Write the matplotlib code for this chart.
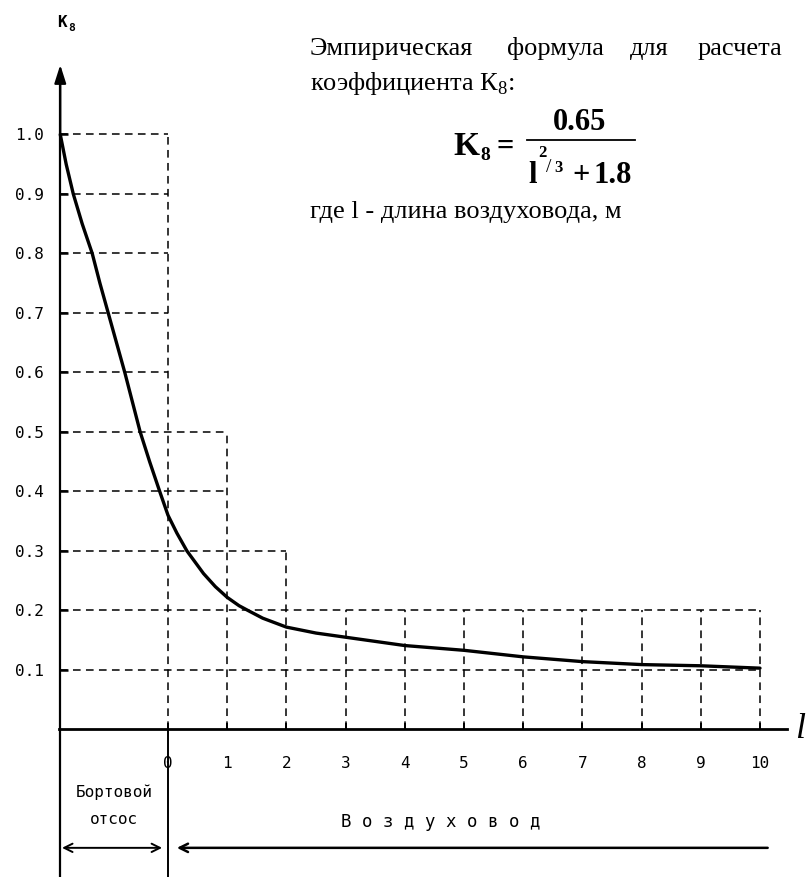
import matplotlib.pyplot as plt

# K8; l < 0 is the "бортовой отсос" stretch left of l = 0
curve_l = [-1.82, -1.72, -1.60, -1.45, -1.28, -1.15, -1.01, -0.87, -0.73, -0.60,
           -0.47, -0.31, -0.14, 0.0, 0.15, 0.32, 0.6, 0.8, 1.0, 1.2, 1.35, 1.6,
           2.0, 2.5, 3.0, 4.0, 5.0, 6.0, 7.0, 8.0, 9.0, 10.0]
curve_k = [1.0, 0.95, 0.9, 0.85, 0.8, 0.75, 0.7, 0.65, 0.6, 0.55,
           0.5, 0.45, 0.4, 0.36, 0.33, 0.3, 0.262, 0.24, 0.222, 0.208, 0.2, 0.187,
           0.172, 0.162, 0.155, 0.141, 0.133, 0.122, 0.114, 0.109, 0.107, 0.103]

l_ticks = list(range(11))
l_labels = [str(v) for v in l_ticks]
k_ticks = [0.1, 0.2, 0.3, 0.4, 0.5, 0.6, 0.7, 0.8, 0.9, 1.0]
k_labels = ["0.1", "0.2", "0.3", "0.4", "0.5", "0.6", "0.7", "0.8", "0.9", "1.0"]

# dashed guides: vertical at each l up to its top, horizontal at each K up to an l
guide_col_tops = [1.0, 0.5, 0.3, 0.2, 0.2, 0.2, 0.2, 0.2, 0.2, 0.2, 0.2]
guide_row_ends = [10, 10, 2, 1, 1, 0, 0, 0, 0, 0]

W, H = 810, 877
MONO = "DejaVu Sans Mono"
SERIF = "Liberation Serif"
plt.rcParams["mathtext.fontset"] = "custom"
plt.rcParams["mathtext.rm"] = SERIF


def px(x, y):
    return x / W, 1 - y / H


fig = plt.figure(figsize=(W / 100, H / 100), dpi=100)
ax = fig.add_axes([0, 0, 1, 1])
ax.set_xlim(-2.838, 10.845)
ax.set_ylim(-0.248, 1.226)
x_left = curve_l[0]

# axes
for side in ["top", "right"]:
    ax.spines[side].set_visible(False)
ax.spines["left"].set_position(("data", x_left))
ax.spines["left"].set_bounds(-0.248, 1.10)
ax.spines["left"].set_linewidth(1.6)
ax.spines["bottom"].set_position(("data", 0))
ax.spines["bottom"].set_bounds(-1.84, 10.45)
ax.spines["bottom"].set_linewidth(2.0)
ax.annotate("", xy=(x_left, 1.117), xytext=(x_left, 1.0),
            arrowprops=dict(arrowstyle="-|>,head_length=1.1,head_width=0.35",
                            lw=1.6, color="black", shrinkA=0, shrinkB=0))

ax.set_yticks(k_ticks, labels=k_labels, family=MONO, fontsize=11.5)
ax.set_xticks(l_ticks, labels=l_labels, family=MONO, fontsize=11.5)
ax.tick_params(axis="y", direction="in", length=6, width=1.8, pad=12)
ax.tick_params(axis="x", direction="in", length=4, width=1.4, pad=19)

# dashed guide grid
dash = (0, (5, 3.5))
for l, top in zip(l_ticks, guide_col_tops):
    ax.plot([l, l], [0, top], color="black", lw=1.1, ls=dash)
for k, end in zip(k_ticks, guide_row_ends):
    ax.plot([x_left, end], [k, k], color="black", lw=1.1, ls=dash)

# the curve
ax.plot(curve_l, curve_k, color="black", lw=2.4, solid_capstyle="round",
        solid_joinstyle="round")

# lower scheme: section divider and spans
ax.plot([0, 0], [-0.248, 0], color="black", lw=1.4)
ax.annotate("", xy=(x_left + 0.03, -0.199), xytext=(-0.10, -0.199),
            arrowprops=dict(arrowstyle="<->,head_length=0.6,head_width=0.3",
                            lw=1.4, color="black", shrinkA=0, shrinkB=0))
ax.annotate("", xy=(0.15, -0.199), xytext=(10.13, -0.199),
            arrowprops=dict(arrowstyle="->,head_length=0.6,head_width=0.3",
                            lw=1.8, color="black", shrinkA=0, shrinkB=0))

fig.text(*px(114, 792), "Бортовой", family=MONO, fontsize=11.5, ha="center", va="center")
fig.text(*px(114, 820), "отсос", family=MONO, fontsize=11.5, ha="center", va="center")
fig.text(*px(441, 822), "В о з д у х о в о д", family=MONO, fontsize=12.5,
         ha="center", va="center")
fig.text(*px(800, 730), "l", family=SERIF, style="italic", fontsize=26,
         ha="center", va="center")
fig.text(*px(57, 27), "K", family=MONO, fontsize=11.5, weight="bold", ha="left",
         va="baseline")
fig.text(*px(68, 31), "8", family=MONO, fontsize=8, weight="bold", ha="left",
         va="baseline")

# empirical formula block
fs = 19
words = [("Эмпирическая", 310), ("формула", 507), ("для", 630), ("расчета", 698)]
for w, x in words:
    fig.text(*px(x, 55), w, family=SERIF, fontsize=fs, va="baseline")
fig.text(*px(310, 90), "коэффициента К$_8$:", family=SERIF, fontsize=fs, va="baseline")
fig.text(*px(310, 218), "где l - длина воздуховода, м", family=SERIF, fontsize=fs,
         va="baseline")

bf = dict(family=SERIF, weight="bold", va="baseline")
fig.text(*px(453, 155), "K", fontsize=24, **bf)
fig.text(*px(480, 160), "8", fontsize=14, **bf)
fig.text(*px(497, 155), "=", fontsize=22, **bf)
fig.text(*px(580, 130), "0.65", fontsize=22, ha="center", **bf)
ax.plot([(527 - 168) / 59.2, (635 - 168) / 59.2], [(729.5 - 140) / 595] * 2,
        color="black", lw=1.3)
fig.text(*px(528, 183), "l", fontsize=22, **bf)
fig.text(*px(538, 157), "2", fontsize=12, **bf)
fig.text(*px(546, 172), "/", fontsize=14, family=SERIF, va="baseline")
fig.text(*px(554, 172), "3", fontsize=12, **bf)
fig.text(*px(572, 183), "+", fontsize=22, **bf)
fig.text(*px(593, 183), "1.8", fontsize=22, **bf)

fig.savefig("out.png", dpi=100)
